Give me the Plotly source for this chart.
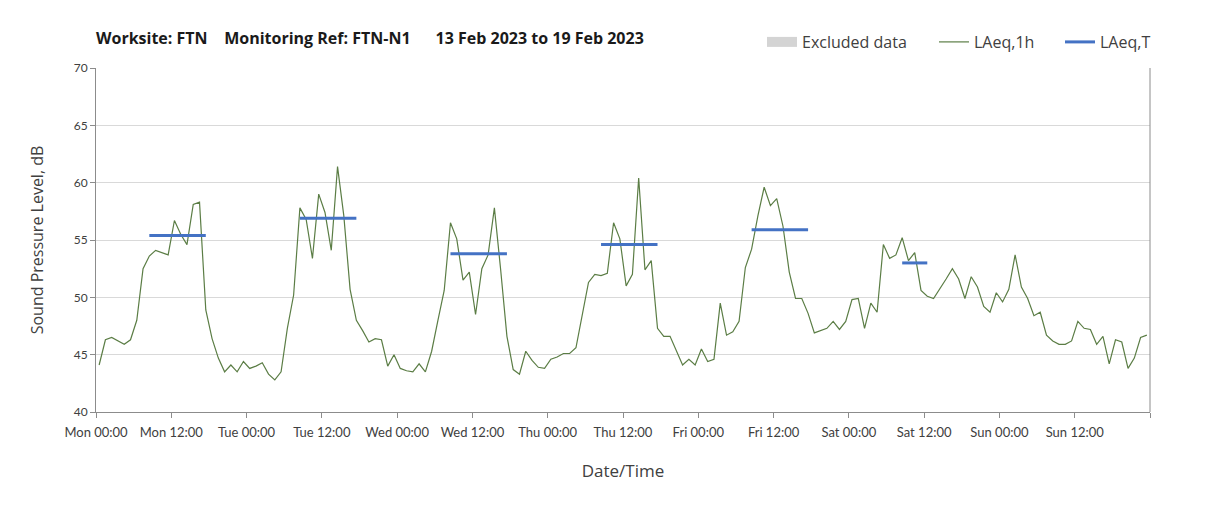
import plotly.graph_objects as go

days = ["Mon", "Tue", "Wed", "Thu", "Fri", "Sat", "Sun"]

mon = [44.1, 46.3, 46.5, 46.2, 45.9, 46.3, 48.0, 52.5, 53.6, 54.1, 53.9, 53.7,
       56.7, 55.5, 54.6, 58.1, 58.3, 48.9, 46.4, 44.7, 43.5, 44.1, 43.5, 44.4]
tue = [43.8, 44.0, 44.3, 43.3, 42.8, 43.5, 47.3, 50.2, 57.8, 56.8, 53.4, 59.0,
       57.4, 54.1, 61.4, 57.1, 50.7, 48.0, 47.1, 46.1, 46.4, 46.3, 44.0, 45.0]
wed = [43.8, 43.6, 43.5, 44.2, 43.5, 45.3, 48.0, 50.6, 56.5, 55.1, 51.5, 52.2,
       48.5, 52.5, 53.7, 57.8, 52.4, 46.6, 43.7, 43.3, 45.3, 44.5, 43.9, 43.8]
thu = [44.6, 44.8, 45.1, 45.1, 45.6, 48.4, 51.3, 52.0, 51.9, 52.1, 56.5, 55.1,
       51.0, 52.0, 60.4, 52.4, 53.2, 47.3, 46.6, 46.6, 45.3, 44.1, 44.6, 44.1]
fri = [45.5, 44.4, 44.6, 49.5, 46.7, 47.0, 47.9, 52.6, 54.2, 57.1, 59.6, 58.0,
       58.6, 56.2, 52.2, 49.9, 49.9, 48.6, 46.9, 47.1, 47.3, 47.9, 47.2, 47.9]
sat = [49.8, 49.9, 47.3, 49.5, 48.7, 54.6, 53.4, 53.7, 55.2, 53.2, 53.9, 50.6,
       50.1, 49.9, 50.7, 51.6, 52.5, 51.6, 49.9, 51.8, 50.9, 49.2, 48.7, 50.4]
sun = [49.6, 50.7, 53.7, 50.9, 49.9, 48.4, 48.7, 46.7, 46.2, 45.9, 45.9, 46.2,
       47.9, 47.3, 47.2, 45.9, 46.6, 44.2, 46.3, 46.1, 43.8, 44.7, 46.5, 46.7]

# LAeq,T per period: day index, start hour, end hour, level
laeqT_day = [0, 1, 2, 3, 4, 5]
laeqT_start = [8, 8, 8, 8, 8, 8]
laeqT_end = [18, 18, 18, 18, 18, 13]
laeqT_val = [55.4, 56.9, 53.8, 54.6, 55.9, 53.0]

tick_hours = list(range(0, 169, 12))
tick_text = [f"{days[h // 24]} {h % 24:02d}:00" if h < 168 else "" for h in tick_hours]

hourly = mon + tue + wed + thu + fri + sat + sun
x_hours = [i + 0.5 for i in range(len(hourly))]

GREEN = "#5b7d45"
BLUE = "#4472c4"
GRID = "#d9d9d9"
AXIS = "#8c8c8c"
TXT = "#404040"
FONT = "Lato, 'Open Sans', sans-serif"
FONT2 = "'Open Sans', Lato, sans-serif"

W, H = 1200, 502
L, T, PW, PH = 88, 60, 1054, 344

fig = go.Figure()

fig.add_trace(go.Scatter(
    x=[None], y=[None], mode="lines", name="Excluded data",
    line=dict(color="#d4d4d4", width=10), xaxis="x2", showlegend=True,
    legend="legend"))

fig.add_trace(go.Scatter(
    x=x_hours, y=hourly, mode="lines", name="LAeq,1h",
    line=dict(color=GREEN, width=1.2), xaxis="x2", legend="legend2"))

for i, (d, s, e, v) in enumerate(zip(laeqT_day, laeqT_start, laeqT_end, laeqT_val)):
    fig.add_trace(go.Scatter(
        x=[d * 24 + s + 0.5, d * 24 + e - 0.5], y=[v, v], mode="lines",
        name="LAeq,T", legendgroup="T", showlegend=(i == 0),
        line=dict(color=BLUE, width=3), xaxis="x2", legend="legend3"))

def leg(px_x):
    return dict(orientation="h", x=(px_x - L) / PW, xanchor="left",
                y=1 + (T - 34) / PH, yanchor="middle",
                font=dict(size=16, color=TXT, family=FONT2),
                bgcolor="rgba(0,0,0,0)", itemwidth=30)

fig.update_layout(
    width=W, height=H,
    paper_bgcolor="white", plot_bgcolor="white",
    margin=dict(l=L, r=W - L - PW, t=T, b=H - T - PH, autoexpand=False),
    font=dict(family=FONT, color=TXT, size=13),
    title=dict(
        text="<b>Worksite: FTN\u00a0\u00a0\u00a0\u00a0Monitoring Ref: FTN-N1\u00a0\u00a0\u00a0\u00a0\u00a0\u00a013 Feb 2023 to 19 Feb 2023</b>",
        x=L / W, xanchor="left", y=1 - 30 / H, yanchor="middle",
        font=dict(size=16, color="#1a1a1a", family=FONT2)),
    showlegend=True,
    legend=leg(754), legend2=leg(926), legend3=leg(1052),
    xaxis=dict(range=[0, 168], dtick=24, tick0=0, showgrid=True, gridcolor=GRID,
               gridwidth=1, showticklabels=False, ticks="", zeroline=False,
               showline=False),
    xaxis2=dict(range=[0, 168], overlaying="x", anchor="y", side="bottom",
                tickvals=tick_hours, ticktext=tick_text, showgrid=False,
                ticks="outside", ticklen=5, tickcolor=AXIS, showline=True,
                linecolor=AXIS, linewidth=1, zeroline=False, ticklabelstandoff=3,
                tickfont=dict(size=13, color=TXT),
                title=dict(text="Date/Time", font=dict(size=17, color=TXT, family=FONT2),
                           standoff=26)),
    yaxis=dict(range=[40, 70], dtick=5, showgrid=True, gridcolor=GRID, gridwidth=1,
               ticks="outside", ticklen=5, tickcolor=AXIS, showline=True,
               linecolor=AXIS, linewidth=1, zeroline=False,
               tickfont=dict(size=12, color=TXT),
               title=dict(text="Sound Pressure Level, dB",
                          font=dict(size=16, color=TXT, family=FONT2), standoff=26)),
)

# right border of plot area
fig.add_shape(type="line", xref="paper", yref="paper", x0=1, x1=1, y0=0, y1=1,
              line=dict(color=AXIS, width=1))

fig.write_html("out.html")
